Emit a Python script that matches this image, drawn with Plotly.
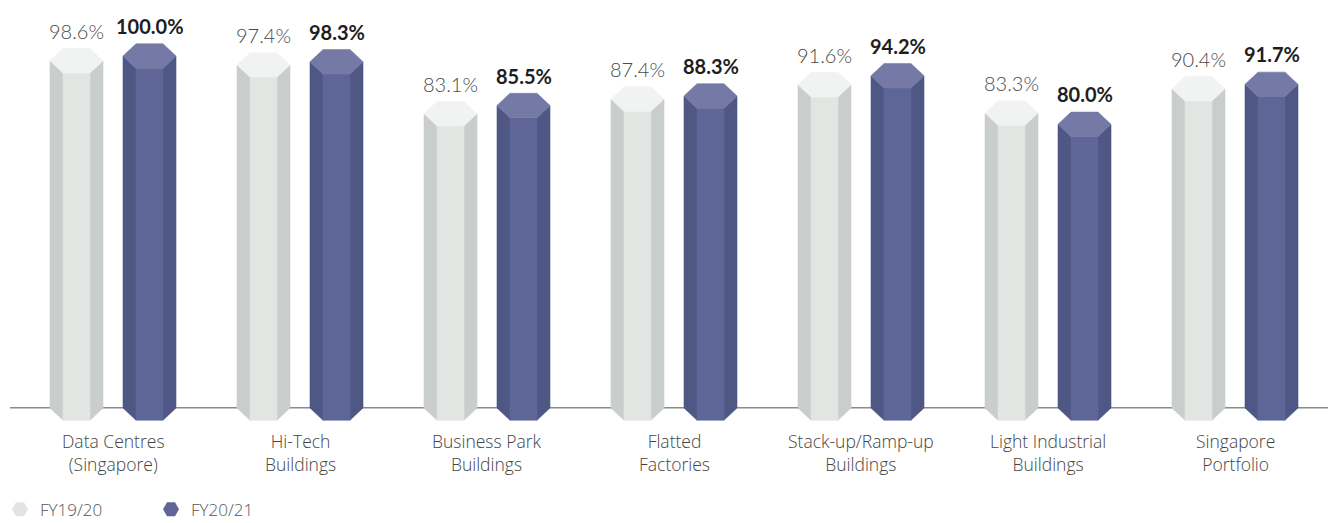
import plotly.graph_objects as go

# ---- data ----
categories = ["Data Centres<br>(Singapore)", "Hi-Tech<br>Buildings", "Business Park<br>Buildings",
              "Flatted<br>Factories", "Stack-up/Ramp-up<br>Buildings", "Light Industrial<br>Buildings",
              "Singapore<br>Portfolio"]
fy1920 = [98.6, 97.4, 83.1, 87.4, 91.6, 83.3, 90.4]
fy2021 = [100.0, 98.3, 85.5, 88.3, 94.2, 80.0, 91.7]
series_names = ["FY19/20", "FY20/21"]

# ---- styling / geometry (axis units) ----
W, H = 1328, 523
GROUP_PX = 187.0
X0_PX = 113.0
PX_PER_UNIT_Y = 3.415
Y100_PX = 56.0
x_range = [-X0_PX / GROUP_PX, (W - X0_PX) / GROUP_PX]
y_range = [100 - (H - Y100_PX) / PX_PER_UNIT_Y, 100 + Y100_PX / PX_PER_UNIT_Y]

offset = 36.5 / GROUP_PX
half_w = 26.5 / GROUP_PX
front_half = 13.5 / GROUP_PX
cap_h = 12.2 / PX_PER_UNIT_Y
base = 100 - (408 - Y100_PX) / PX_PER_UNIT_Y

styles = [
    dict(top="#F1F3F2", front="#E2E6E3", side="#C9CDCC", legend="#E1E5E2",
         font=dict(family="Lato", size=20, color="#4A4A4A", weight=300), bold=False),
    dict(top="#7579A6", front="#5E6697", side="#4F5784", legend="#5F6697",
         font=dict(family="Lato", size=20, color="#1E1E1E"), bold=True),
]
label_font = dict(family="Open Sans", size=17.5, color="#444444", weight=300)

fig = go.Figure()

def add_poly(xs_list, ys_list, color):
    xs, ys = [], []
    for px, py in zip(xs_list, ys_list):
        xs += px + [px[0], None]
        ys += py + [py[0], None]
    fig.add_trace(go.Scatter(x=xs, y=ys, mode="lines", fill="toself", fillcolor=color,
                             line=dict(width=0.6, color=color), hoverinfo="skip",
                             showlegend=False))

annotations = []
for si, (vals, st) in enumerate(zip([fy1920, fy2021], styles)):
    sides_x, sides_y, front_x, front_y, top_x, top_y = [], [], [], [], [], []
    for i, v in enumerate(vals):
        xc = i + (-offset if si == 0 else offset)
        sides_x.append([xc - half_w, xc - half_w, xc - front_half, xc - front_half])
        sides_y.append([base, v, v - cap_h, base - cap_h])
        sides_x.append([xc + half_w, xc + half_w, xc + front_half, xc + front_half])
        sides_y.append([base, v, v - cap_h, base - cap_h])
        front_x.append([xc - front_half, xc + front_half, xc + front_half, xc - front_half])
        front_y.append([v - cap_h, v - cap_h, base - cap_h, base - cap_h])
        top_x.append([xc - half_w, xc - front_half, xc + front_half, xc + half_w, xc + front_half, xc - front_half])
        top_y.append([v, v + cap_h, v + cap_h, v, v - cap_h, v - cap_h])
        txt = f"{v:.1f}%"
        if st["bold"]:
            txt = f"<b>{txt}</b>"
        annotations.append(dict(x=xc, y=v, xref="x", yref="y", text=txt, showarrow=False,
                                yanchor="middle", yshift=30, font=st["font"]))
    add_poly(sides_x, sides_y, st["side"])
    add_poly(front_x, front_y, st["front"])
    add_poly(top_x, top_y, st["top"])

for name, st in zip(series_names, styles):
    fig.add_trace(go.Scatter(x=[None], y=[None], mode="markers", name=name,
                             marker=dict(symbol="hexagon2", size=20, color=st["legend"])))

for i, c in enumerate(categories):
    annotations.append(dict(x=i, y=base, xref="x", yref="y", text=c, showarrow=False,
                            yanchor="top", yshift=-19, font=label_font))

fig.update_layout(
    width=W, height=H,
    margin=dict(l=0, r=0, t=0, b=0, autoexpand=False),
    paper_bgcolor="white", plot_bgcolor="white",
    xaxis=dict(range=x_range, visible=False, fixedrange=True),
    yaxis=dict(range=y_range, visible=False, fixedrange=True),
    annotations=annotations,
    shapes=[dict(type="line", xref="paper", yref="y", x0=10 / W, x1=1, y0=base + 0.1, y1=base + 0.1,
                 line=dict(color="#8A8A8A", width=1.5), layer="below")],
    showlegend=True,
    legend=dict(orientation="h", x=0.0, y=-0.009, xanchor="left", yanchor="bottom",
                font=dict(family="Open Sans", size=17, color="#555555", weight=300),
                entrywidth=106, entrywidthmode="pixels", bgcolor="rgba(0,0,0,0)",
                traceorder="normal"),
)

fig.write_html("out.html")
